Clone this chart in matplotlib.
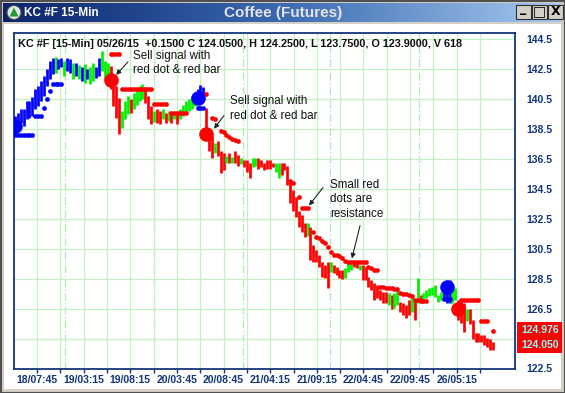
import numpy as np
import matplotlib.pyplot as plt
from matplotlib.patches import Rectangle, Circle, Polygon
from matplotlib.colors import LinearSegmentedColormap

plt.rcParams['font.family'] = ['Liberation Sans', 'DejaVu Sans']

# 15-min bars, one row of 10 per line (B = blue, G = green up bar, R = red)
highs = [139.4, 139.6, 139.85, 139.85, 140.4, 140.4, 140.65, 141.2, 141.4, 141.7,
         142.05, 142.5, 143.05, 143.25, 143.3, 143.15, 143.25, 143.05, 143.25, 143.15,
         142.9, 142.9, 142.75, 142.65, 142.85, 142.5, 142.65, 142.9, 142.65, 143.25,
         143.7, 143.05, 142.9, 142.7, 141.7, 141.4, 140.6, 139.7, 140.4, 140.7,
         140.5, 140.9, 141.2, 141.4, 141.5, 141.3, 140.7, 140.05, 139.7, 139.85,
         139.7, 139.85, 139.6, 139.7, 139.5, 139.65, 139.5, 139.85, 140.1, 140.4,
         140.5, 140.7, 140.9, 141.2, 141.45, 141.3, 139.9, 138.5, 138.05, 137.6,
         137.7, 137.05, 136.9, 136.7, 136.9, 136.65, 137.05, 136.75, 136.6, 136.4,
         136.4, 136.2, 136.55, 136.6, 136.55, 136.4, 136.25, 136.4, 136.4, 136.25,
         136.25, 136.25, 136.2, 136.25, 136.05, 135.05, 134.4, 133.95, 133.05, 132.75,
         132.2, 132.25, 131.95, 130.75, 130.4, 130.1, 129.6, 129.4, 129.6, 129.6,
         129.4, 129.3, 129.1, 129.1, 129.2, 129.55, 129.6, 129.6, 129.6, 129.4,
         129.4, 129.3, 128.6, 128.4, 128.2, 128.1, 127.75, 127.6, 127.6, 127.55,
         127.4, 127.55, 127.75, 126.95, 126.9, 126.75, 127.1, 127.4, 127.1, 128.55,
         127.4, 127.55, 127.75, 127.9, 127.95, 128.1, 127.4, 127.6, 128.1, 128.3,
         128.4, 127.9, 127.9, 127.1, 127.1, 126.9, 126.45, 126.45, 125.75, 124.9,
         124.9, 124.75, 124.75, 124.55, 124.45, 124.25]
lows = [138.2, 138.5, 138.9, 138.7, 139.2, 139.25, 139.4, 139.85, 140.05, 140.4,
        140.7, 141.4, 141.85, 142.15, 142.25, 142.5, 142.65, 142.05, 142.35, 142.25,
        141.85, 142.05, 141.85, 141.7, 141.6, 141.85, 141.5, 141.7, 141.9, 142.05,
        142.35, 141.85, 141.7, 141.2, 140.05, 139.25, 138.2, 138.6, 139.2, 139.5,
        139.6, 139.85, 140.1, 140.4, 140.5, 140.25, 139.2, 138.85, 139.0, 138.9,
        138.85, 139.2, 138.9, 139.05, 138.9, 139.2, 138.85, 139.2, 139.4, 139.5,
        139.7, 139.85, 140.05, 140.2, 140.4, 140.5, 137.85, 137.05, 136.6, 136.9,
        136.7, 135.55, 135.75, 136.25, 136.2, 136.2, 136.25, 136.05, 136.15, 135.95,
        135.6, 135.25, 135.95, 136.05, 135.85, 135.95, 135.75, 135.85, 135.85, 135.95,
        135.6, 135.25, 135.4, 135.75, 134.75, 133.55, 133.05, 132.6, 131.95, 131.6,
        131.3, 131.35, 129.75, 129.6, 129.6, 129.3, 128.6, 128.55, 127.9, 128.95,
        128.9, 128.75, 128.55, 128.5, 128.55, 128.95, 129.1, 129.3, 129.2, 129.1,
        128.4, 128.4, 127.95, 127.75, 127.1, 127.2, 127.1, 126.9, 126.9, 126.75,
        126.45, 126.55, 126.75, 126.3, 126.1, 125.9, 126.1, 126.3, 125.75, 126.9,
        127.1, 127.1, 127.2, 127.35, 127.4, 127.3, 126.95, 127.1, 127.2, 126.9,
        126.9, 126.9, 127.1, 125.75, 125.55, 124.95, 125.65, 125.45, 124.45, 124.3,
        124.25, 124.25, 124.1, 123.95, 123.75, 123.75]
bar_cols = ("BBBBBBBBBB" "BBBBGBBGBB" "GBGBGBGGBB" "GGGRRRRGGG" "RGGGGRRRGR"
            "RGRGRGRGGG" "GGGBBBRRRG" "RRRGRGRRGR" "RRGGRRRRRR" "GGRRRRRRRR"
            "RGRRRRRRRG" "RRRRGGGRRG" "RRRRRRRRRG" "RGGRRRRGRG" "RGGGGGGGBB"
            "BGGRRRGRRR" "RRRRRR")

# trailing stop dots
red_stop_x = [33, 34, 35, 36,
              37, 38, 39, 40, 41, 42, 43, 44, 45, 46, 47,
              48, 49, 50, 51, 52,
              54, 55, 56, 57, 58, 59,
              66, 68, 69,
              71, 72, 73, 74, 75, 76, 77,
              95, 96, 98, 99, 100, 101,
              103, 104, 105, 106, 107, 108, 109, 110, 111, 112, 113, 114,
              115, 116, 117, 118, 119, 120, 121, 122, 123, 124, 125,
              126, 127, 128, 129, 130, 131, 132, 133, 134, 135, 136, 137,
              138, 139, 140, 141, 142,
              154, 155, 156, 157, 158, 159, 160, 161, 162, 163, 165]
red_stop_y = [143.55, 143.55, 143.55, 143.55,
              141.2, 141.2, 141.2, 141.2, 141.2, 141.2, 141.2, 141.2, 141.2, 141.2, 141.2,
              140.2, 140.2, 140.2, 140.2, 140.2,
              139.6, 139.6, 139.6, 139.6, 139.6, 139.6,
              140.85, 139.25, 139.15,
              138.4, 138.3, 138.1, 138.0, 137.85, 137.75, 137.7,
              135.0, 134.9, 133.95, 133.2, 133.2, 133.2,
              131.6, 131.3, 131.2, 131.0, 130.9, 130.6, 130.3, 130.1, 130.1, 130.05, 129.9, 129.7,
              129.6, 129.6, 129.6, 129.6, 129.6, 129.6, 129.6, 129.25, 129.2, 129.1, 129.05,
              127.95, 127.95, 127.9, 127.85, 127.85, 127.8, 127.8, 127.55, 127.5, 127.45, 127.4, 127.35,
              127.1, 127.05, 127.0, 127.0, 127.0,
              127.1, 127.1, 127.1, 127.1, 127.1, 127.1, 127.1, 125.7, 125.7, 125.7, 124.976]
blue_stop_x = [0, 1, 2, 3, 4, 5, 6, 7, 8, 9, 10, 11, 12, 13, 14, 15, 16,
               63, 64, 65, 148, 149, 150]
blue_stop_y = [138.1, 138.1, 138.1, 138.1, 138.1, 138.1, 138.1,
               139.4, 139.4, 139.4, 139.9, 140.5, 141.05, 141.5, 141.5, 141.5, 141.5,
               139.9, 139.9, 139.9, 127.15, 127.15, 127.15]

# signal dots
sig_x = [0, 33, 63, 66, 149, 153]
sig_y = [138.7, 141.8, 140.6, 138.2, 127.95, 126.45]
sig_c = "BRBRBR"

x_labels = ["18/07:45", "19/03:15", "19/08:15", "20/03:45", "20/08:45",
            "21/04:15", "21/09:15", "22/04:45", "22/09:45", "26/05:15"]
session_breaks = [17.3, 48.0, 78.7, 108.7, 139.5]
y_ticks = [122.5, 124.5, 126.5, 128.5, 130.5, 132.5, 134.5, 136.5, 138.5, 140.5, 142.5, 144.5]

COL = {'B': '#0000ff', 'G': '#00f000', 'R': '#ff0000'}
NAVY = '#12357a'
GRID = '#c4f0c4'

fig = plt.figure(figsize=(5.65, 3.93), dpi=100)
fig.patch.set_facecolor('#d4d0c8')

# window chrome, drawn in pixel units
bg = fig.add_axes([0, 0, 1, 1], zorder=0)
bg.axis('off')
cmap = LinearSegmentedColormap.from_list('tb', ['#0a246a', '#3a6ab0', '#a6caf0'])
bg.imshow(np.linspace(0, 1, 256)[None, :], cmap=cmap, aspect='auto',
          extent=(3, 562, 22, 3))
bg.add_patch(Rectangle((4, 24), 557, 365, fc='white', ec='none'))
bg.add_patch(Circle((14, 12.5), 7, fc='#e6e6e6', ec='#505050', lw=0.8))
bg.add_patch(Polygon([(9.5, 16.5), (14, 7.5), (18.5, 16.5)], fc='#1e9a3a', ec='none'))
bg.text(24, 12.5, "KC #F 15-Min", color='white', fontsize=8.5, fontweight='bold', va='center')
bg.text(283, 13, "Coffee (Futures)", color='#e4e4e4', fontsize=11, fontweight='bold',
        ha='center', va='center')
for x0, g in zip([516, 532, 548], ['_', '\u25a1', 'X']):
    bg.add_patch(Rectangle((x0, 5), 15, 14, fc='#d4d0c8', ec='#303030', lw=0.8))
    bg.text(x0 + 7.5, 11.5 if g != '_' else 8.5, g, fontsize=9 if g != '\u25a1' else 10,
            fontweight='bold', ha='center', va='center', color='black',
            family=['DejaVu Sans'])
# last-value boxes
bg.add_patch(Rectangle((517, 322), 45, 31, fc='#ff0000', ec='none'))
bg.text(521, 330, "124.976", color='#80ffff', fontsize=7.5, fontweight='bold', va='center')
bg.text(521, 345, "124.050", color='#80ffff', fontsize=7.5, fontweight='bold', va='center')
bg.add_patch(Rectangle((0.5, 0.5), 564, 392, fc='none', ec='#505050', lw=1.5))
bg.set_xlim(0, 565)
bg.set_ylim(393, 0)

ax = fig.add_axes([13.5 / 565, 1 - 368.5 / 393, 501.5 / 565, 335.5 / 393], zorder=1)
ax.set_facecolor('white')

n = len(highs)
xs = np.arange(n)
ax.vlines(xs, lows, highs, colors=[COL[c] for c in bar_cols], lw=1.95, zorder=3)
ax.plot(red_stop_x, red_stop_y, 'o', color=COL['R'], ms=3.4, mew=0, zorder=4)
ax.plot(blue_stop_x, blue_stop_y, 'o', color=COL['B'], ms=3.4, mew=0, zorder=4)
for x, y, c in zip(sig_x, sig_y, sig_c):
    ax.plot(x, y, 'o', color=COL[c], ms=10.5, mew=0, zorder=5)

ax.set_xlim(-0.52, 172.6)
ax.set_ylim(122.52, 144.92)

major = [7.6 + 16.1 * k for k in range(len(x_labels))]
minor = [m + 8.05 for m in major[:-1]] + [major[-1] + 8.05]
ax.set_xticks(major)
ax.set_xticklabels(x_labels)
ax.set_xticks(minor, minor=True)
ax.set_yticks(y_ticks)
ax.set_yticklabels([f"{v:.1f}" if v != 124.5 else "" for v in y_ticks])
ax.yaxis.tick_right()
ax.tick_params(axis='y', length=0, pad=8.5, labelsize=7.5, labelcolor=NAVY)
ax.tick_params(axis='x', which='both', direction='out', length=3, width=1,
               color=NAVY, pad=2, labelsize=7.5, labelcolor=NAVY)
for lab in ax.get_xticklabels() + ax.get_yticklabels():
    lab.set_fontweight('bold')

ax.grid(True, which='both', color=GRID, lw=0.9, zorder=0)
for b in session_breaks:
    ax.axvline(b, color='#b4e6b4', lw=0.9, ls=(0, (6, 2, 1, 2)), zorder=1)
for s in ax.spines.values():
    s.set_color(NAVY)
    s.set_linewidth(1.3)

ax.text(0.009, 0.967, "KC #F [15-Min] 05/26/15  +0.1500 C 124.0500, H 124.2500, "
        "L 123.7500, O 123.9000, V 618", transform=ax.transAxes, fontsize=7.8,
        fontweight='bold', va='center', color='#101010', zorder=6)

txt = dict(fontsize=8.4, va='top', ha='left', linespacing=1.25, color='#111111', zorder=6)
ax.text(40.7, 143.8, "Sell signal with\nred dot & red bar", **txt)
ax.text(74.2, 140.75, "Sell signal with\nred dot & red bar", **txt)
ax.text(108.7, 135.15, "Small red\ndots are\nresistance", **txt)

arr = dict(arrowstyle='-|>', color='#222222', lw=0.8, mutation_scale=7, shrinkA=0, shrinkB=0)
for tail, tip in [((39.0, 142.99), (34.9, 142.12)),
                  ((72.1, 139.39), (68.7, 138.52)),
                  ((106.3, 134.59), (101.5, 133.39)),
                  ((119.1, 132.05), (116.3, 129.85))]:
    ax.annotate('', xy=tip, xytext=tail, arrowprops=arr, zorder=6)

fig.savefig('out.png', dpi=100, facecolor=fig.get_facecolor())
